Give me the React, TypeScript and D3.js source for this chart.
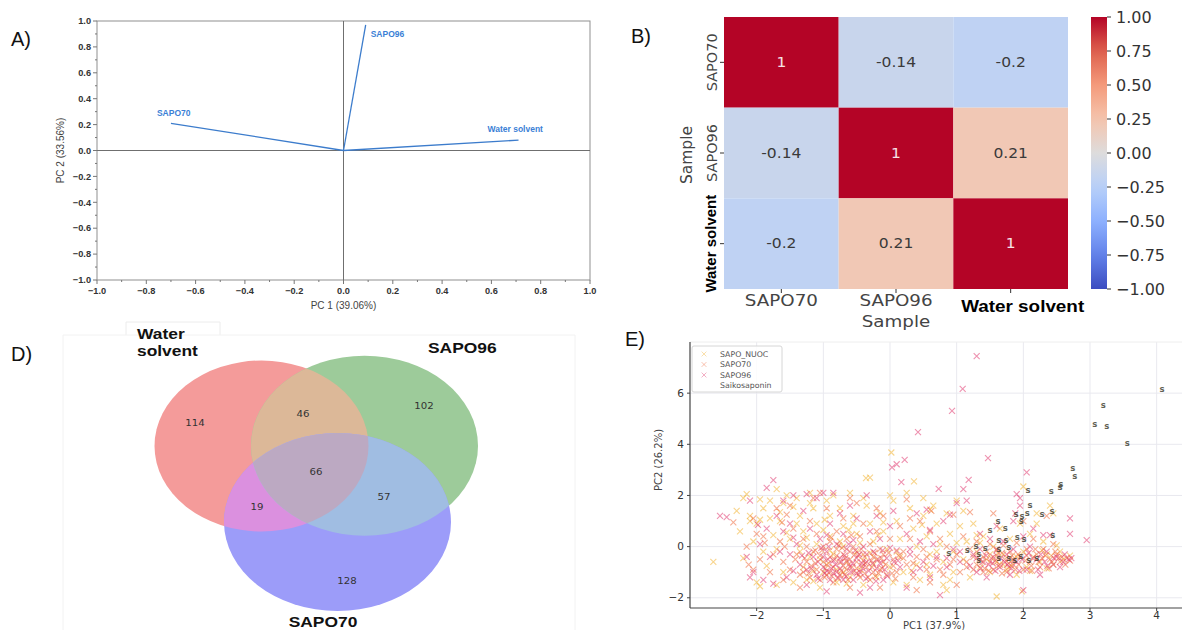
import React, { useEffect, useRef } from 'react'
import * as d3 from 'd3'

// ---- A) PCA loadings
const loadNames = ['SAPO70', 'SAPO96', 'Water solvent']
const loadPC1 = [-0.7, 0.09, 0.71]
const loadPC2 = [0.21, 0.97, 0.08]

// ---- B) correlation heatmap
const corrLabels = ['SAPO70', 'SAPO96', 'Water solvent']
const corrValues = [
  [1, -0.14, -0.2],
  [-0.14, 1, 0.21],
  [-0.2, 0.21, 1],
]
const cbarTicks = [1, 0.75, 0.5, 0.25, 0, -0.25, -0.5, -0.75, -1]

// ---- D) venn
const vennSets = ['Water solvent', 'SAPO96', 'SAPO70']
const vennRegions = ['100', '010', '001', '110', '101', '011', '111']
const vennCounts = [114, 102, 128, 46, 19, 57, 66]

// ---- E) PCA scores
const sapoNuoc = [
  [-2.65, -0.6], [-2.3, 1.4], [-2.2, 1.9], [-2.15, 2.05], [-2.2, -0.45], [-2.0, -1.4], [-1.95, -1.55], [-2.0, 0.9],
  [-1.95, 1.05], [-2.05, 0.2], [-1.9, -0.2], [-1.85, -0.75], [-1.7, -1.5], [-1.7, 2.25], [-1.8, 1.8], [-1.65, 1.0],
  [-1.7, -0.1], [-1.6, -1.0], [-1.55, 2.0], [-1.5, 0.3], [-1.45, -1.4], [-2.1, 1.2], [-2.25, 0.6], [-1.9, 1.5],
  [-1.75, 0.45], [-1.6, 1.7], [-1.4, 1.9], [-1.35, 1.2], [-1.3, 0.6], [-1.35, -0.2], [-1.3, -0.8], [-1.25, -1.3],
  [-1.2, 2.1], [-1.15, 1.5], [-1.1, 0.9], [-1.1, 0.1], [-1.05, -0.5], [-1.0, -1.0], [-1.05, -1.6], [-0.95, 1.8],
  [-0.9, 1.2], [-0.9, 0.4], [-0.85, -0.3], [-0.8, -0.9], [-0.8, -1.4], [-0.75, 1.5], [-0.7, 0.8], [-0.7, 0.0],
  [-0.65, -0.6], [-0.6, -1.2], [-0.6, 2.1], [-0.55, 1.2], [-0.5, 0.5], [-0.5, -0.2], [-0.45, -0.9], [-0.4, -1.5],
  [-0.36, 2.68], [-0.3, 2.7], [-0.35, 1.6], [-0.3, 0.9], [-0.25, 0.2], [-0.2, -0.5], [-0.2, -1.2], [-0.15, 1.3],
  [-0.1, 0.6], [-0.05, -0.1], [0.02, 3.68], [0.0, 2.0], [0.0, -0.8], [0.05, 1.8], [0.05, -1.4], [0.1, 1.0],
  [0.15, 0.3], [0.15, -0.4], [0.2, -1.0], [0.25, 2.1], [0.3, 1.5], [0.36, 2.55], [0.35, 0.7], [0.4, 0.0],
  [0.4, -0.7], [0.45, -1.3], [0.5, 1.9], [0.5, 1.2], [0.55, 0.4], [0.6, -0.3], [0.6, -1.1], [0.65, 1.6],
  [0.7, 0.9], [0.75, 0.1], [0.8, -0.6], [0.8, -1.5], [0.85, 1.3], [0.9, 0.5], [0.95, -0.2], [0.95, -1.0],
  [1.0, 1.8], [1.05, 0.8], [1.1, 1.4], [1.1, -0.5], [1.15, 0.2], [1.2, -1.2], [1.25, 0.9], [1.3, -0.2],
  [1.35, -0.8], [1.4, 0.4], [1.45, -0.5], [1.5, -1.0], [1.55, 0.0], [1.6, -1.95], [1.6, -0.6], [1.65, 0.7],
  [1.7, -0.3], [1.75, -0.9], [1.8, 0.3], [1.85, -0.5], [1.9, -1.1], [1.95, 0.9], [2.0, 2.35], [2.0, -0.2],
  [2.05, -0.8], [2.1, 0.5], [2.15, -0.4], [2.2, 1.3], [2.25, -0.6], [2.3, 0.2], [2.35, -0.3], [2.4, 1.6],
  [2.45, -0.7], [2.55, -0.2], [2.6, -0.5], [2.7, -0.35], [-1.4, 0.9], [-1.2, -0.4], [-0.95, -0.7], [-0.7, -1.0],
  [-0.55, 0.9], [-0.25, -0.7], [0.1, -0.2], [0.55, -0.7], [-1.8, 1.1], [-2.1, 1.0], [-1.2, 1.7], [-0.85, 2.0],
  [-0.4, 1.9], [0.6, 1.45], [0.85, -1.7], [-1.95, 1.85], [-1.65, 1.35], [-1.45, 1.55], [-1.25, 0.35], [-1.15, -0.95],
  [-1.0, 0.65], [-0.9, -0.15], [-0.75, 0.2], [-0.65, -1.45], [-0.45, 0.15], [-0.3, -0.25], [-0.1, 0.95], [0.25, -1.5],
  [0.7, -0.2], [1.0, 0.15], [1.3, 0.45], [1.5, -0.3], [1.7, -0.7], [1.9, -0.4], [2.1, -0.95], [2.35, -0.85],
  [2.5, 0.05], [2.2, 0.9], [2.45, 1.3], [1.98, -1.75], [-1.55, 0.55], [-1.35, 0.05], [-1.15, -1.35], [-0.98, 1.05],
  [-0.62, 0.65], [-0.38, -0.4], [-0.18, 0.45], [0.32, -0.95], [0.48, 0.85], [0.9, -1.3], [1.35, 0.15], [1.62, -0.25],
  [1.82, -0.75], [2.28, -0.15], [2.42, -0.35],
]
const sapo70 = [
  [-2.35, 0.95], [-2.05, 1.1], [-1.9, 0.4], [-2.0, 0.5], [-1.8, -1.0], [-1.7, 1.5], [-1.65, 0.2], [-1.6, -0.6],
  [-1.5, 1.6], [-1.5, -0.9], [-1.45, 0.7], [-1.4, -0.3], [-1.35, -1.1], [-1.3, 0.3], [-1.25, -0.6], [-1.2, 1.0],
  [-1.2, -1.2], [-1.15, -0.2], [-1.1, 0.5], [-1.1, -0.9], [-1.05, -1.3], [-1.0, 0.0], [-1.0, -0.6], [-0.95, 1.5],
  [-0.95, -1.1], [-0.9, 0.2], [-0.9, -0.4], [-0.85, -0.8], [-0.85, -1.4], [-0.8, 0.6], [-0.8, -0.1], [-0.75, -0.6],
  [-0.75, -1.1], [-0.7, 1.1], [-0.7, -0.3], [-0.65, -0.9], [-0.65, 0.3], [-0.6, -0.5], [-0.6, -1.6], [-0.55, 0.0],
  [-0.55, -1.0], [-0.5, 1.7], [-0.5, -0.6], [-0.45, 0.4], [-0.45, -1.2], [-0.4, -0.3], [-0.4, 0.9], [-0.35, -0.8],
  [-0.3, 0.1], [-0.3, -1.3], [-0.25, -0.4], [-0.2, 0.6], [-0.15, -0.9], [-0.15, -0.1], [-0.1, 1.2], [-0.1, -0.6],
  [-0.05, -1.1], [0.0, 0.3], [0.05, -0.5], [0.1, -1.0], [0.15, 0.8], [0.2, -0.2], [0.25, 1.85], [0.25, -0.7],
  [0.3, 0.3], [0.35, -1.2], [0.4, -0.4], [0.45, 1.0], [0.5, -0.1], [0.55, -0.9], [0.6, 0.6], [0.62, 1.4],
  [0.7, -0.5], [0.75, 0.3], [0.8, -1.1], [0.85, 0.0], [0.9, -0.7], [0.95, 1.25], [1.0, -0.3], [1.05, -1.0],
  [1.1, 0.4], [1.15, -0.6], [1.2, -0.1], [1.25, -0.9], [1.3, 0.2], [1.35, -0.5], [1.4, -1.0], [1.45, -0.2],
  [1.5, -0.6], [1.5, 0.1], [1.55, -0.9], [1.6, -0.35], [1.65, -0.7], [1.7, 0.05], [1.72, -0.5], [1.75, -1.0],
  [1.8, -0.2], [1.85, -0.7], [1.9, 0.15], [1.95, -0.4], [2.0, -0.9], [2.0, 1.0], [2.05, -0.1], [2.1, -0.6],
  [2.15, 0.3], [2.2, -0.3], [2.25, -0.8], [2.3, -0.1], [2.35, 1.2], [2.4, -0.5], [2.45, 0.1], [2.5, -0.3],
  [2.55, -0.6], [2.65, -0.45], [2.7, -0.55], [1.3, -0.7], [1.4, -0.4], [1.6, -0.1], [1.8, -0.45], [2.05, -0.35],
  [-1.25, 0.0], [-1.05, -0.35], [-0.9, -1.0], [-0.8, -0.35], [-0.7, -0.75], [-0.6, -0.2], [-0.5, -0.85], [-0.4, -0.55],
  [-0.25, -1.0], [-0.1, -0.3], [0.05, -0.75], [-1.55, 1.25], [-1.75, -0.3], [-2.15, 0.0], [-1.95, -0.5], [-2.05, -0.9],
  [-1.6, -1.3], [-1.15, 1.9], [-0.6, 1.9], [-0.2, 1.5], [0.3, 1.1], [0.6, -1.4], [1.2, 1.35], [1.55, 1.3],
  [1.0, -1.5], [0.4, -1.7], [-0.15, -1.6], [-1.35, -1.6], [-1.05, 2.1], [-1.18, -0.75], [-1.12, -0.15], [-0.98, -1.2],
  [-0.92, -0.65], [-0.88, 0.35], [-0.78, -1.25], [-0.72, -0.05], [-0.68, -1.1], [-0.62, -0.7], [-0.58, 0.45], [-0.48, -0.35],
  [-0.42, -0.75], [-0.38, -1.05], [-0.28, -0.55], [-0.22, -1.15], [-0.12, -0.85], [-0.02, -0.25], [0.08, -1.25], [-1.3, -1.0],
  [-1.42, -0.5], [-1.58, 0.0], [-1.62, 0.95], [-1.88, 0.15], [-2.12, -0.7], [1.42, -0.85], [1.52, -0.45], [1.62, -0.75],
  [1.68, -0.25], [1.78, -0.65], [1.88, -0.9], [1.92, -0.3], [2.12, -0.75], [2.18, -0.1], [2.28, -0.45], [2.38, -0.85],
  [2.48, -0.2], [2.58, -0.4], [1.25, -0.4], [1.15, -0.8], [0.95, -0.5], [0.75, -0.9], [0.55, -0.4], [0.35, -0.65],
  [0.2, -0.45], [-1.28, -0.45], [-1.22, -1.05], [-1.12, -0.65], [-1.02, -0.15], [-0.97, -0.85], [-0.87, -1.15], [-0.83, -0.5],
  [-0.77, 0.05], [-0.73, -0.95], [-0.67, -0.45], [-0.63, -1.3], [-0.57, -0.8], [-0.53, -0.3], [-0.47, -1.1], [-0.43, -0.1],
  [-0.37, -0.65], [-0.33, -1.2], [-0.27, -0.8], [-0.23, -0.25], [-0.17, -1.05], [-0.13, -0.45], [-0.07, -0.7], [0.03, -1.05],
  [0.13, -0.35], [1.38, -0.6], [1.48, -0.95], [1.58, -0.55], [1.68, -1.05], [1.78, -0.8], [1.83, -0.35], [1.93, -0.7],
  [2.03, -0.55], [2.13, -0.95], [2.23, -0.6], [2.33, -0.35], [2.43, -0.6], [2.53, -0.45], [2.63, -0.7],
]
const sapo96 = [
  [-2.55, 1.2], [-2.45, 1.15], [-2.1, 1.8], [-2.1, -1.2], [-2.05, -1.0], [-1.9, -1.3], [-1.85, 0.7], [-1.8, -0.4],
  [-1.75, -1.45], [-1.85, 2.3], [-1.75, 2.6], [-1.6, 0.6], [-1.55, -1.2], [-1.6, 1.8], [-1.5, 0.9], [-1.5, -0.3],
  [-1.45, 2.0], [-1.4, 0.1], [-1.35, -0.7], [-1.3, 1.4], [-1.25, -1.5], [-1.2, 0.7], [-1.15, -0.4], [-1.1, 1.9],
  [-1.1, -1.1], [-1.05, 0.3], [-1.0, -0.8], [-1.0, 2.1], [-0.95, -0.2], [-0.9, 0.9], [-0.9, -1.3], [-0.85, -0.55],
  [-0.8, 0.1], [-0.8, -1.0], [-0.75, 1.3], [-0.75, -0.45], [-0.7, -1.3], [-0.7, 0.5], [-0.65, -0.1], [-0.6, -0.8],
  [-0.6, 1.6], [-0.55, -1.3], [-0.55, 0.25], [-0.5, -0.45], [-0.5, 1.1], [-0.45, -1.0], [-0.4, 0.0], [-0.35, 2.0],
  [-0.35, -0.6], [-0.3, 0.6], [-0.3, -1.6], [-0.25, -0.2], [-0.2, 1.2], [-0.2, -0.85], [-0.15, 0.3], [-0.1, -1.3],
  [-0.05, -0.45], [0.0, 0.8], [0.03, 3.1], [0.1, 3.22], [0.22, 3.39], [0.05, 1.4], [0.1, -0.15], [0.15, -0.8],
  [0.17, 2.52], [0.25, 0.5], [0.3, -0.3], [0.35, -1.0], [0.4, 1.3], [0.42, 4.48], [0.45, 0.2], [0.5, -0.6],
  [0.55, 1.45], [0.6, -1.2], [0.65, 0.1], [0.7, -0.4], [0.73, 2.26], [0.75, -1.9], [0.8, 1.0], [0.85, -0.8],
  [0.9, 1.25], [0.93, 5.31], [0.95, -0.1], [1.0, 1.7], [1.05, -0.6], [1.09, 6.17], [1.1, 2.25], [1.15, 1.8],
  [1.18, 2.61], [1.25, -0.3], [1.3, 7.45], [1.3, -1.0], [1.35, 0.5], [1.4, -0.6], [1.47, 3.46], [1.45, -1.2],
  [1.5, 0.3], [1.55, -0.4], [1.6, 0.8], [1.65, -0.8], [1.7, 0.2], [1.75, -0.3], [1.8, -1.1], [1.85, 1.0],
  [1.9, 2.05], [1.9, -0.6], [1.95, 1.6], [2.0, 0.4], [2.0, -1.7], [2.05, 2.9], [2.05, -0.9], [2.1, 0.0],
  [2.15, 0.7], [2.2, -0.5], [2.25, -1.1], [2.3, 0.45], [2.35, -0.2], [2.4, 0.45], [2.45, -0.7], [2.5, -0.4],
  [2.6, -0.6], [2.7, 1.1], [2.7, 0.5], [2.72, -0.45], [2.95, 0.25], [1.95, 1.9], [1.88, 1.3], [1.6, -0.15],
  [1.85, -0.1], [1.35, -0.1], [-1.25, -0.9], [-1.0, -0.4], [-0.85, -1.05], [-0.65, -0.55], [-0.5, -1.05], [-0.35, -0.3],
  [-0.15, -0.65], [-0.95, -0.95], [-0.75, -0.85], [-1.95, 0.1], [-2.15, -0.4], [-1.7, 1.2], [-1.25, 2.05], [-0.85, 2.1],
  [0.6, 0.65], [0.25, -1.6], [-0.95, -1.75], [-0.45, -1.8], [-1.22, -0.25], [-1.08, -0.6], [-0.98, -1.05], [-0.92, 0.0],
  [-0.82, -0.7], [-0.78, -1.2], [-0.68, -0.35], [-0.58, -1.0], [-0.52, -0.15], [-0.42, -0.65], [-0.32, -0.95], [-0.18, -0.5],
  [-0.08, -0.9], [0.0, -0.05], [0.12, -0.55], [-1.45, -0.95], [-1.65, -0.2], [-1.98, 0.85], [1.48, -0.7], [1.58, -0.95],
  [1.72, -0.6], [1.82, -0.85], [1.98, -0.5], [2.08, -0.25], [2.22, -0.9], [2.32, -0.6], [2.55, -0.8], [2.68, -0.5],
  [1.3, -0.45], [1.2, -0.75], [1.05, -0.2], [0.85, -0.45], [0.65, -0.75], [0.45, -0.85], [0.3, -0.1], [-1.32, -0.35],
  [-1.18, -0.85], [-1.08, -1.25], [-1.03, -0.05], [-0.93, -0.5], [-0.88, -0.85], [-0.73, -0.6], [-0.66, -1.15], [-0.62, 0.1],
  [-0.56, -0.65], [-0.46, -0.3], [-0.41, -0.85], [-0.36, -1.25], [-0.26, -0.65], [-0.21, -1.35], [-0.11, -0.15], [-0.04, -1.15],
  [0.06, -0.6], [1.36, -0.85], [1.44, -0.35], [1.54, -0.65], [1.66, -0.45], [1.76, -0.7], [1.86, -0.55], [1.94, -0.95],
  [2.14, -0.45], [2.26, -0.3], [2.36, -0.75], [2.46, -0.45], [2.62, -0.3], [-0.95, 0.45], [-1.45, 0.35],
]
const saiko = [
  [4.08, 6.16], [3.2, 5.52], [3.07, 4.8], [3.25, 4.7], [3.56, 4.05], [2.74, 3.05], [2.77, 2.74], [2.56, 2.45],
  [2.55, 2.31], [2.42, 2.18], [2.07, 2.22], [2.1, 1.6], [1.89, 1.25], [1.98, 1.17], [2.06, 1.31], [2.28, 1.28],
  [2.43, 1.39], [1.97, 0.98], [2.44, 0.45], [1.91, 0.37], [2.01, 0.29], [1.96, -0.39], [2.08, -0.52], [1.87, -0.52],
  [1.62, 1.01], [1.73, 0.72], [1.5, 0.65], [1.63, 0.26], [1.74, 0.26], [1.16, -0.13], [1.29, 0.03], [1.43, -0.06],
  [1.63, -0.1], [1.78, -0.03], [1.33, -0.3], [0.88, -0.26], [1.33, -0.52], [1.63, -0.46], [1.78, -0.46], [2.2, -0.45],
]
const scoreSeries = [
  { name: 'SAPO_NUOC', points: sapoNuoc, color: '#f2b230' },
  { name: 'SAPO70', points: sapo70, color: '#ee6a3c' },
  { name: 'SAPO96', points: sapo96, color: '#e0386f' },
]

const W = 1182
const H = 630
const SANS = '"Liberation Sans", Arial, sans-serif'
const DEJAVU = '"DejaVu Sans", sans-serif'

type Sel = d3.Selection<SVGSVGElement, unknown, null, undefined>

const panelLetter = (svg: Sel, txt: string, x: number, y: number) =>
  svg.append('text').attr('x', x).attr('y', y).attr('font-family', SANS)
    .attr('font-size', 20).attr('fill', '#111').text(txt)

function drawPanelA(svg: Sel) {
  const x = d3.scaleLinear().domain([-1, 1]).range([97, 590])
  const y = d3.scaleLinear().domain([-1, 1]).range([280, 21])
  const g = svg.append('g').attr('font-family', SANS)
  const fmt = d3.format('.1f')
  const major = d3.range(-5, 6).map((i) => i / 5)
  const minor = d3.range(-10, 11).map((i) => i / 10)
  const isMajor = (d: number) => Math.round(d * 10) % 2 === 0

  g.append('rect').attr('x', x(-1)).attr('y', y(1))
    .attr('width', x(1) - x(-1)).attr('height', y(-1) - y(1))
    .attr('fill', 'none').attr('stroke', '#8f8f8f')

  g.selectAll('.ytk').data(minor).join('line')
    .attr('x1', x(-1)).attr('x2', (d) => x(-1) - (isMajor(d) ? 4 : 2))
    .attr('y1', (d) => y(d)).attr('y2', (d) => y(d)).attr('stroke', '#777')
  g.selectAll('.xtk').data(minor).join('line')
    .attr('y1', y(-1)).attr('y2', (d) => y(-1) + (isMajor(d) ? 4 : 2))
    .attr('x1', (d) => x(d)).attr('x2', (d) => x(d)).attr('stroke', '#777')

  g.selectAll('.ylb').data(major).join('text')
    .attr('x', x(-1) - 6).attr('y', (d) => y(d)).attr('dy', '0.35em')
    .attr('text-anchor', 'end').attr('font-size', 9.2).attr('font-weight', 'bold')
    .attr('fill', '#333').text((d) => fmt(d))
  g.selectAll('.xlb').data(major).join('text')
    .attr('x', (d) => x(d)).attr('y', y(-1) + 14)
    .attr('text-anchor', 'middle').attr('font-size', 9.2).attr('font-weight', 'bold')
    .attr('fill', '#333').text((d) => fmt(d))

  // zero lines
  g.append('line').attr('x1', x(0)).attr('x2', x(0)).attr('y1', y(1)).attr('y2', y(-1)).attr('stroke', '#6f6f6f')
  g.append('line').attr('x1', x(-1)).attr('x2', x(1)).attr('y1', y(0)).attr('y2', y(0)).attr('stroke', '#6f6f6f')

  g.append('text').attr('x', x(0)).attr('y', 309).attr('text-anchor', 'middle')
    .attr('font-size', 10).attr('fill', '#444').text('PC 1 (39.06%)')
  g.append('text').attr('transform', `translate(64,${y(0)}) rotate(-90)`).attr('text-anchor', 'middle')
    .attr('font-size', 10).attr('fill', '#444').text('PC 2 (33.56%)')

  const offs = [[-14, -7], [5, 12], [-31, -8]]
  loadNames.forEach((name, i) => {
    g.append('line').attr('x1', x(0)).attr('y1', y(0))
      .attr('x2', x(loadPC1[i])).attr('y2', y(loadPC2[i]))
      .attr('stroke', '#3c7ccc').attr('stroke-width', 1.3)
    g.append('text').attr('x', x(loadPC1[i]) + offs[i][0]).attr('y', y(loadPC2[i]) + offs[i][1])
      .attr('font-size', 8.5).attr('font-weight', 'bold').attr('fill', '#3b7fd6').text(name)
  })
  panelLetter(svg, 'A)', 11, 46)
}

function drawPanelB(svg: Sel) {
  const x = d3.scaleBand<number>().domain([0, 1, 2]).range([724, 1068])
  const y = d3.scaleBand<number>().domain([0, 1, 2]).range([17, 289])
  const coolwarm = d3.piecewise(d3.interpolateRgb, [
    '#3b4cc0', '#6282ea', '#8db0fe', '#b8d0f9', '#dddcdc', '#f5c4ad', '#f49a7b', '#de604d', '#b40426',
  ])
  const cScale = d3.scaleLinear().domain([-1, 1]).range([0, 1])
  const g = svg.append('g').attr('font-family', DEJAVU)

  const cells = corrValues.flatMap((row, r) => row.map((v, c) => ({ r, c, v })))
  g.selectAll('.cell').data(cells).join('rect')
    .attr('x', (d) => x(d.c)!).attr('y', (d) => y(d.r)!)
    .attr('width', x.bandwidth()).attr('height', y.bandwidth())
    .attr('fill', (d) => coolwarm(cScale(d.v)))
  g.selectAll('.ann').data(cells).join('text')
    .attr('transform', (d) => `translate(${x(d.c)! + x.bandwidth() / 2},${y(d.r)! + y.bandwidth() / 2}) scale(1.15,1)`)
    .attr('dy', '0.35em').attr('text-anchor', 'middle').attr('font-size', 13.5)
    .attr('fill', (d) => (d.v > 0.5 ? '#f6e3e6' : '#3a3a3a')).text((d) => String(d.v))

  // ticks
  g.selectAll('.rt').data([0, 1, 2]).join('line')
    .attr('x1', 724).attr('x2', 720).attr('y1', (d) => y(d)! + y.bandwidth() / 2)
    .attr('y2', (d) => y(d)! + y.bandwidth() / 2).attr('stroke', '#333')
  g.selectAll('.ct').data([0, 1, 2]).join('line')
    .attr('y1', 289).attr('y2', 293).attr('x1', (d) => x(d)! + x.bandwidth() / 2)
    .attr('x2', (d) => x(d)! + x.bandwidth() / 2).attr('stroke', '#333')

  corrLabels.forEach((lab, i) => {
    const bold = lab === 'Water solvent'
    const cy = y(i)! + y.bandwidth() / 2
    g.append('text').attr('transform', `translate(${bold ? 716 : 717},${cy}) rotate(-90)`)
      .attr('text-anchor', 'middle').attr('font-size', bold ? 15 : 14.5)
      .attr('font-family', bold ? SANS : DEJAVU).attr('font-weight', bold ? 'bold' : 'normal')
      .attr('fill', bold ? '#000' : '#444').text(lab)
    const cx = x(i)! + x.bandwidth() / 2
    g.append('text').attr('transform', `translate(${bold ? cx + 12 : cx},${bold ? 312 : 306}) scale(1.18,1)`)
      .attr('text-anchor', 'middle').attr('font-size', bold ? 16 : 15.5)
      .attr('font-family', bold ? SANS : DEJAVU).attr('font-weight', bold ? 'bold' : 'normal')
      .attr('fill', bold ? '#000' : '#444').text(lab)
  })
  g.append('text').attr('transform', 'translate(896,327) scale(1.18,1)').attr('text-anchor', 'middle')
    .attr('font-size', 15.5).attr('fill', '#444').text('Sample')
  g.append('text').attr('transform', 'translate(692,155) rotate(-90)').attr('text-anchor', 'middle')
    .attr('font-size', 15.5).attr('fill', '#444').text('Sample')

  // colorbar
  const cb = d3.scaleLinear().domain([-1, 1]).range([289, 17])
  const grad = svg.append('defs').append('linearGradient').attr('id', 'cwgrad')
    .attr('x1', 0).attr('y1', 1).attr('x2', 0).attr('y2', 0)
  grad.selectAll('stop').data(d3.range(21).map((i) => i / 20)).join('stop')
    .attr('offset', (d) => d).attr('stop-color', (d) => coolwarm(d))
  g.append('rect').attr('x', 1091).attr('y', cb(1)).attr('width', 16).attr('height', cb(-1) - cb(1))
    .attr('fill', 'url(#cwgrad)')
  const f2 = d3.format('.2f')
  g.selectAll('.cbt').data(cbarTicks).join('line')
    .attr('x1', 1107).attr('x2', 1111).attr('y1', (d) => cb(d)).attr('y2', (d) => cb(d)).attr('stroke', '#333')
  g.selectAll('.cbl').data(cbarTicks).join('text')
    .attr('x', 1116).attr('y', (d) => cb(d)).attr('dy', '0.35em').attr('font-size', 16)
    .attr('fill', '#333').text((d) => f2(d))
  panelLetter(svg, 'B)', 631, 43)
}

function drawPanelD(svg: Sel) {
  const circles = [
    { cx: 261.5, cy: 446, rx: 107, ry: 85.5 },
    { cx: 364.5, cy: 445.7, rx: 113.5, ry: 90 },
    { cx: 337.5, cy: 522, rx: 113.5, ry: 89 },
  ]
  const regionFill: Record<string, string> = {
    '100': '#f49b9a', '010': '#9dcb9a', '001': '#9c9cf9', '110': '#dcb898',
    '101': '#db90df', '011': '#a0bde2', '111': '#bca9c2',
  }
  const labelPos: Record<string, [number, number]> = {
    '100': [195, 423], '010': [424, 406], '001': [347, 581], '110': [303, 414],
    '101': [257, 507], '011': [384, 497], '111': [316, 472],
  }
  const defs = svg.append('defs')
  circles.forEach((c, i) => {
    defs.append('clipPath').attr('id', `vclip${i}`).append('ellipse')
      .attr('cx', c.cx).attr('cy', c.cy).attr('rx', c.rx).attr('ry', c.ry)
  })
  const g = svg.append('g')
  // faint frames around the venn figure
  g.append('path').attr('d', 'M126,335V322H220V335').attr('fill', 'none').attr('stroke', '#ececec')
  g.append('path').attr('d', 'M63,630V335H575V630').attr('fill', 'none').attr('stroke', '#f2f2f2')

  const ell = (parent: d3.Selection<any, unknown, null, undefined>, i: number, fill: string) =>
    parent.append('ellipse').attr('cx', circles[i].cx).attr('cy', circles[i].cy)
      .attr('rx', circles[i].rx).attr('ry', circles[i].ry).attr('fill', fill)
  ell(g, 0, regionFill['100'])
  ell(g, 1, regionFill['010'])
  ell(g, 2, regionFill['001'])
  ell(g.append('g').attr('clip-path', 'url(#vclip0)'), 1, regionFill['110'])
  ell(g.append('g').attr('clip-path', 'url(#vclip0)'), 2, regionFill['101'])
  ell(g.append('g').attr('clip-path', 'url(#vclip1)'), 2, regionFill['011'])
  ell(g.append('g').attr('clip-path', 'url(#vclip0)').append('g').attr('clip-path', 'url(#vclip1)'), 2, regionFill['111'])

  vennRegions.forEach((key, i) => {
    const [px, py] = labelPos[key]
    g.append('text').attr('transform', `translate(${px},${py}) scale(1.2,1)`)
      .attr('dy', '0.35em').attr('text-anchor', 'middle').attr('font-family', DEJAVU)
      .attr('font-size', 8.5).attr('fill', '#333').text(String(vennCounts[i]))
  })

  const setLab = (lines: string[], px: number, py: number, anchor: string) => {
    const t = g.append('text').attr('transform', `translate(${px},${py}) scale(1.2,1)`)
      .attr('font-family', SANS).attr('font-weight', 'bold').attr('font-size', 14.5)
      .attr('fill', '#111').attr('text-anchor', anchor)
    lines.forEach((l, k) => t.append('tspan').attr('x', 0).attr('dy', k === 0 ? 0 : 17).text(l))
  }
  setLab(vennSets[0].split(' '), 137, 339, 'start')
  setLab([vennSets[1]], 428, 353, 'start')
  setLab([vennSets[2]], 323, 627, 'middle')
  panelLetter(svg, 'D)', 11, 361)
}

function drawPanelE(svg: Sel) {
  const x = d3.scaleLinear().domain([-3, 4.38]).range([690, 1182])
  const y = d3.scaleLinear().domain([-2.4, 8.0]).range([608, 342])
  const g = svg.append('g').attr('font-family', DEJAVU)
  const xt = [-2, -1, 0, 1, 2, 3, 4]
  const yt = [-2, 0, 2, 4, 6]

  g.selectAll('.gx').data(xt).join('line').attr('x1', (d) => x(d)).attr('x2', (d) => x(d))
    .attr('y1', y(8)).attr('y2', y(-2.4)).attr('stroke', '#e9e9ef')
  g.selectAll('.gy').data(yt).join('line').attr('y1', (d) => y(d)).attr('y2', (d) => y(d))
    .attr('x1', x(-3)).attr('x2', W).attr('stroke', '#e9e9ef')
  g.append('line').attr('x1', x(-3)).attr('x2', W).attr('y1', y(8)).attr('y2', y(8)).attr('stroke', '#eeeeee')

  const xPath = 'M-3,-3L3,3M-3,3L3,-3'
  scoreSeries.forEach((s) => {
    g.append('g').selectAll('path').data(s.points).join('path')
      .attr('d', xPath).attr('transform', (d) => `translate(${x(d[0])},${y(d[1])})`)
      .attr('fill', 'none').attr('stroke', s.color).attr('stroke-width', 1.1).attr('opacity', 0.55)
  })
  g.append('g').selectAll('text').data(saiko).join('text')
    .attr('x', (d) => x(d[0])).attr('y', (d) => y(d[1])).attr('dy', '0.33em')
    .attr('text-anchor', 'middle').attr('font-size', 8.5).attr('font-weight', 'bold')
    .attr('fill', '#3b3a2c').attr('opacity', 0.8).text('s')

  // spines + ticks
  g.append('line').attr('x1', x(-3)).attr('x2', x(-3)).attr('y1', y(8)).attr('y2', y(-2.4)).attr('stroke', '#444').attr('stroke-width', 1.2)
  g.append('line').attr('x1', x(-3)).attr('x2', W).attr('y1', y(-2.4)).attr('y2', y(-2.4)).attr('stroke', '#444').attr('stroke-width', 1.2)
  const fmt = d3.format('d')
  g.selectAll('.xl').data(xt).join('text').attr('x', (d) => x(d)).attr('y', 619)
    .attr('text-anchor', 'middle').attr('font-size', 10.5).attr('fill', '#333').text((d) => fmt(d))
  g.selectAll('.yl').data(yt).join('text').attr('x', x(-3) - 6).attr('y', (d) => y(d)).attr('dy', '0.35em')
    .attr('text-anchor', 'end').attr('font-size', 10.5).attr('fill', '#333').text((d) => fmt(d))
  g.selectAll('.ytk').data(yt).join('line').attr('x1', x(-3)).attr('x2', x(-3) - 3)
    .attr('y1', (d) => y(d)).attr('y2', (d) => y(d)).attr('stroke', '#444')
  g.selectAll('.xtk').data(xt).join('line').attr('y1', y(-2.4)).attr('y2', y(-2.4) + 3)
    .attr('x1', (d) => x(d)).attr('x2', (d) => x(d)).attr('stroke', '#444')

  g.append('text').attr('x', 934).attr('y', 629).attr('text-anchor', 'middle')
    .attr('font-size', 10).attr('fill', '#444').text('PC1 (37.9%)')
  g.append('text').attr('transform', 'translate(662,460) rotate(-90)').attr('text-anchor', 'middle')
    .attr('font-size', 10).attr('fill', '#444').text('PC2 (26.2%)')

  // legend
  const lg = g.append('g').attr('transform', 'translate(692,346)')
  lg.append('rect').attr('width', 90).attr('height', 46).attr('rx', 2)
    .attr('fill', '#fff').attr('fill-opacity', 0.85).attr('stroke', '#d6d6d6')
  const entries = [...scoreSeries.map((s) => ({ name: s.name, color: s.color })), { name: 'Saikosaponin', color: '' }]
  entries.forEach((e, i) => {
    const yy = 8 + i * 10.5
    if (e.color) {
      lg.append('path').attr('d', xPath).attr('transform', `translate(12,${yy}) scale(0.8)`)
        .attr('fill', 'none').attr('stroke', e.color).attr('opacity', 0.5)
    }
    lg.append('text').attr('x', 28).attr('y', yy).attr('dy', '0.35em')
      .attr('font-size', 7.8).attr('fill', '#555').text(e.name)
  })
  panelLetter(svg, 'E)', 625, 346)
}

const App = () => {
  const ref = useRef<SVGSVGElement>(null)

  useEffect(() => {
    const svg = d3.select(ref.current!) as Sel
    svg.selectAll('*').remove()
    drawPanelA(svg)
    drawPanelB(svg)
    drawPanelD(svg)
    drawPanelE(svg)
  }, [])

  return (
    <svg ref={ref} width={W} height={H}
      style={{ position: 'absolute', left: 0, top: 0, background: '#fff' }} />
  )
}

export default App
